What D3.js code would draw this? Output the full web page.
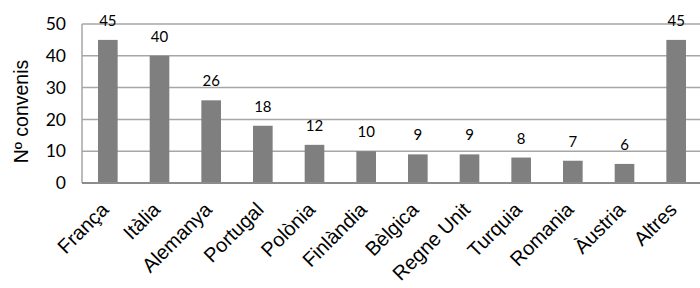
<!DOCTYPE html>
<html>
<head>
<meta charset="utf-8">
<script src="https://cdn.jsdelivr.net/npm/d3@7"></script>
<style>
  body { margin: 0; background: #fff; }
  svg { display: block; }
</style>
</head>
<body>
<div id="chart"></div>
<script>
const countries = ["França", "Itàlia", "Alemanya", "Portugal", "Polònia", "Finlàndia",
  "Bèlgica", "Regne Unit", "Turquia", "Romania", "Àustria", "Altres"];
const convenis = [45, 40, 26, 18, 12, 10, 9, 9, 8, 7, 6, 45];
const yTicks = [0, 10, 20, 30, 40, 50];

const W = 700, H = 288;
const margin = { top: 24, right: -2, bottom: 105, left: 82 };
const width = W - margin.left - margin.right;
const height = H - margin.top - margin.bottom;

const svg = d3.select("#chart").append("svg")
  .attr("width", W)
  .attr("height", H);

const g = svg.append("g")
  .attr("transform", `translate(${margin.left},${margin.top})`);

const x = d3.scaleBand()
  .domain(countries)
  .range([0, width])
  .paddingInner(0.62)
  .paddingOuter(0.31);

const y = d3.scaleLinear()
  .domain([0, 50])
  .range([height, 0]);

// gridlines
g.selectAll(".grid")
  .data(yTicks.filter(d => d > 0))
  .enter().append("line")
  .attr("x1", 0)
  .attr("x2", width)
  .attr("y1", d => y(d))
  .attr("y2", d => y(d))
  .attr("stroke", "#a6a6a6")
  .attr("stroke-width", 1.5);

// left axis line
g.append("line")
  .attr("x1", 0).attr("x2", 0)
  .attr("y1", 0).attr("y2", height)
  .attr("stroke", "#a6a6a6")
  .attr("stroke-width", 1.5);

// bars
g.selectAll(".bar")
  .data(convenis)
  .enter().append("rect")
  .attr("x", (d, i) => x(countries[i]))
  .attr("y", d => y(d))
  .attr("width", x.bandwidth())
  .attr("height", d => height - y(d))
  .attr("fill", "#7f7f7f");

// baseline
g.append("line")
  .attr("x1", 0).attr("x2", width)
  .attr("y1", height).attr("y2", height)
  .attr("stroke", "#8c8c8c")
  .attr("stroke-width", 2);

// value labels
g.selectAll(".val")
  .data(convenis)
  .enter().append("text")
  .attr("x", (d, i) => x(countries[i]) + x.bandwidth() / 2)
  .attr("y", d => y(d) - 14)
  .attr("text-anchor", "middle")
  .style("font-family", "Lato, 'Open Sans', sans-serif")
  .style("font-size", "15px")
  .attr("fill", "#000")
  .text(d => d);

// y axis
const yAxis = g.append("g")
  .call(d3.axisLeft(y).tickValues(yTicks).tickSize(0).tickPadding(16));
yAxis.select(".domain").remove();
yAxis.selectAll("text")
  .style("font-family", "Lato, 'Open Sans', sans-serif")
  .style("font-size", "17.5px")
  .attr("fill", "#000");

// x axis
const xAxis = g.append("g")
  .attr("transform", `translate(0,${height})`)
  .call(d3.axisBottom(x).tickSize(0));
xAxis.attr("font-size", null).attr("font-family", null);
xAxis.select(".domain").remove();
xAxis.selectAll("text")
  .attr("transform", "translate(-3,23) rotate(-45)")
  .attr("dy", "0.35em")
  .attr("y", 0)
  .attr("x", 0)
  .style("text-anchor", "end")
  .style("font-family", "'Liberation Sans', Arial, sans-serif")
  .style("font-size", "20px")
  .attr("fill", "#000");

// y axis title
svg.append("text")
  .attr("transform", "rotate(-90)")
  .attr("x", -(margin.top + height / 2) - 8)
  .attr("y", 28)
  .attr("text-anchor", "middle")
  .style("font-family", "'Liberation Sans', Arial, sans-serif")
  .style("font-size", "19.5px")
  .attr("fill", "#000")
  .text("Nº convenis");
</script>
</body>
</html>
